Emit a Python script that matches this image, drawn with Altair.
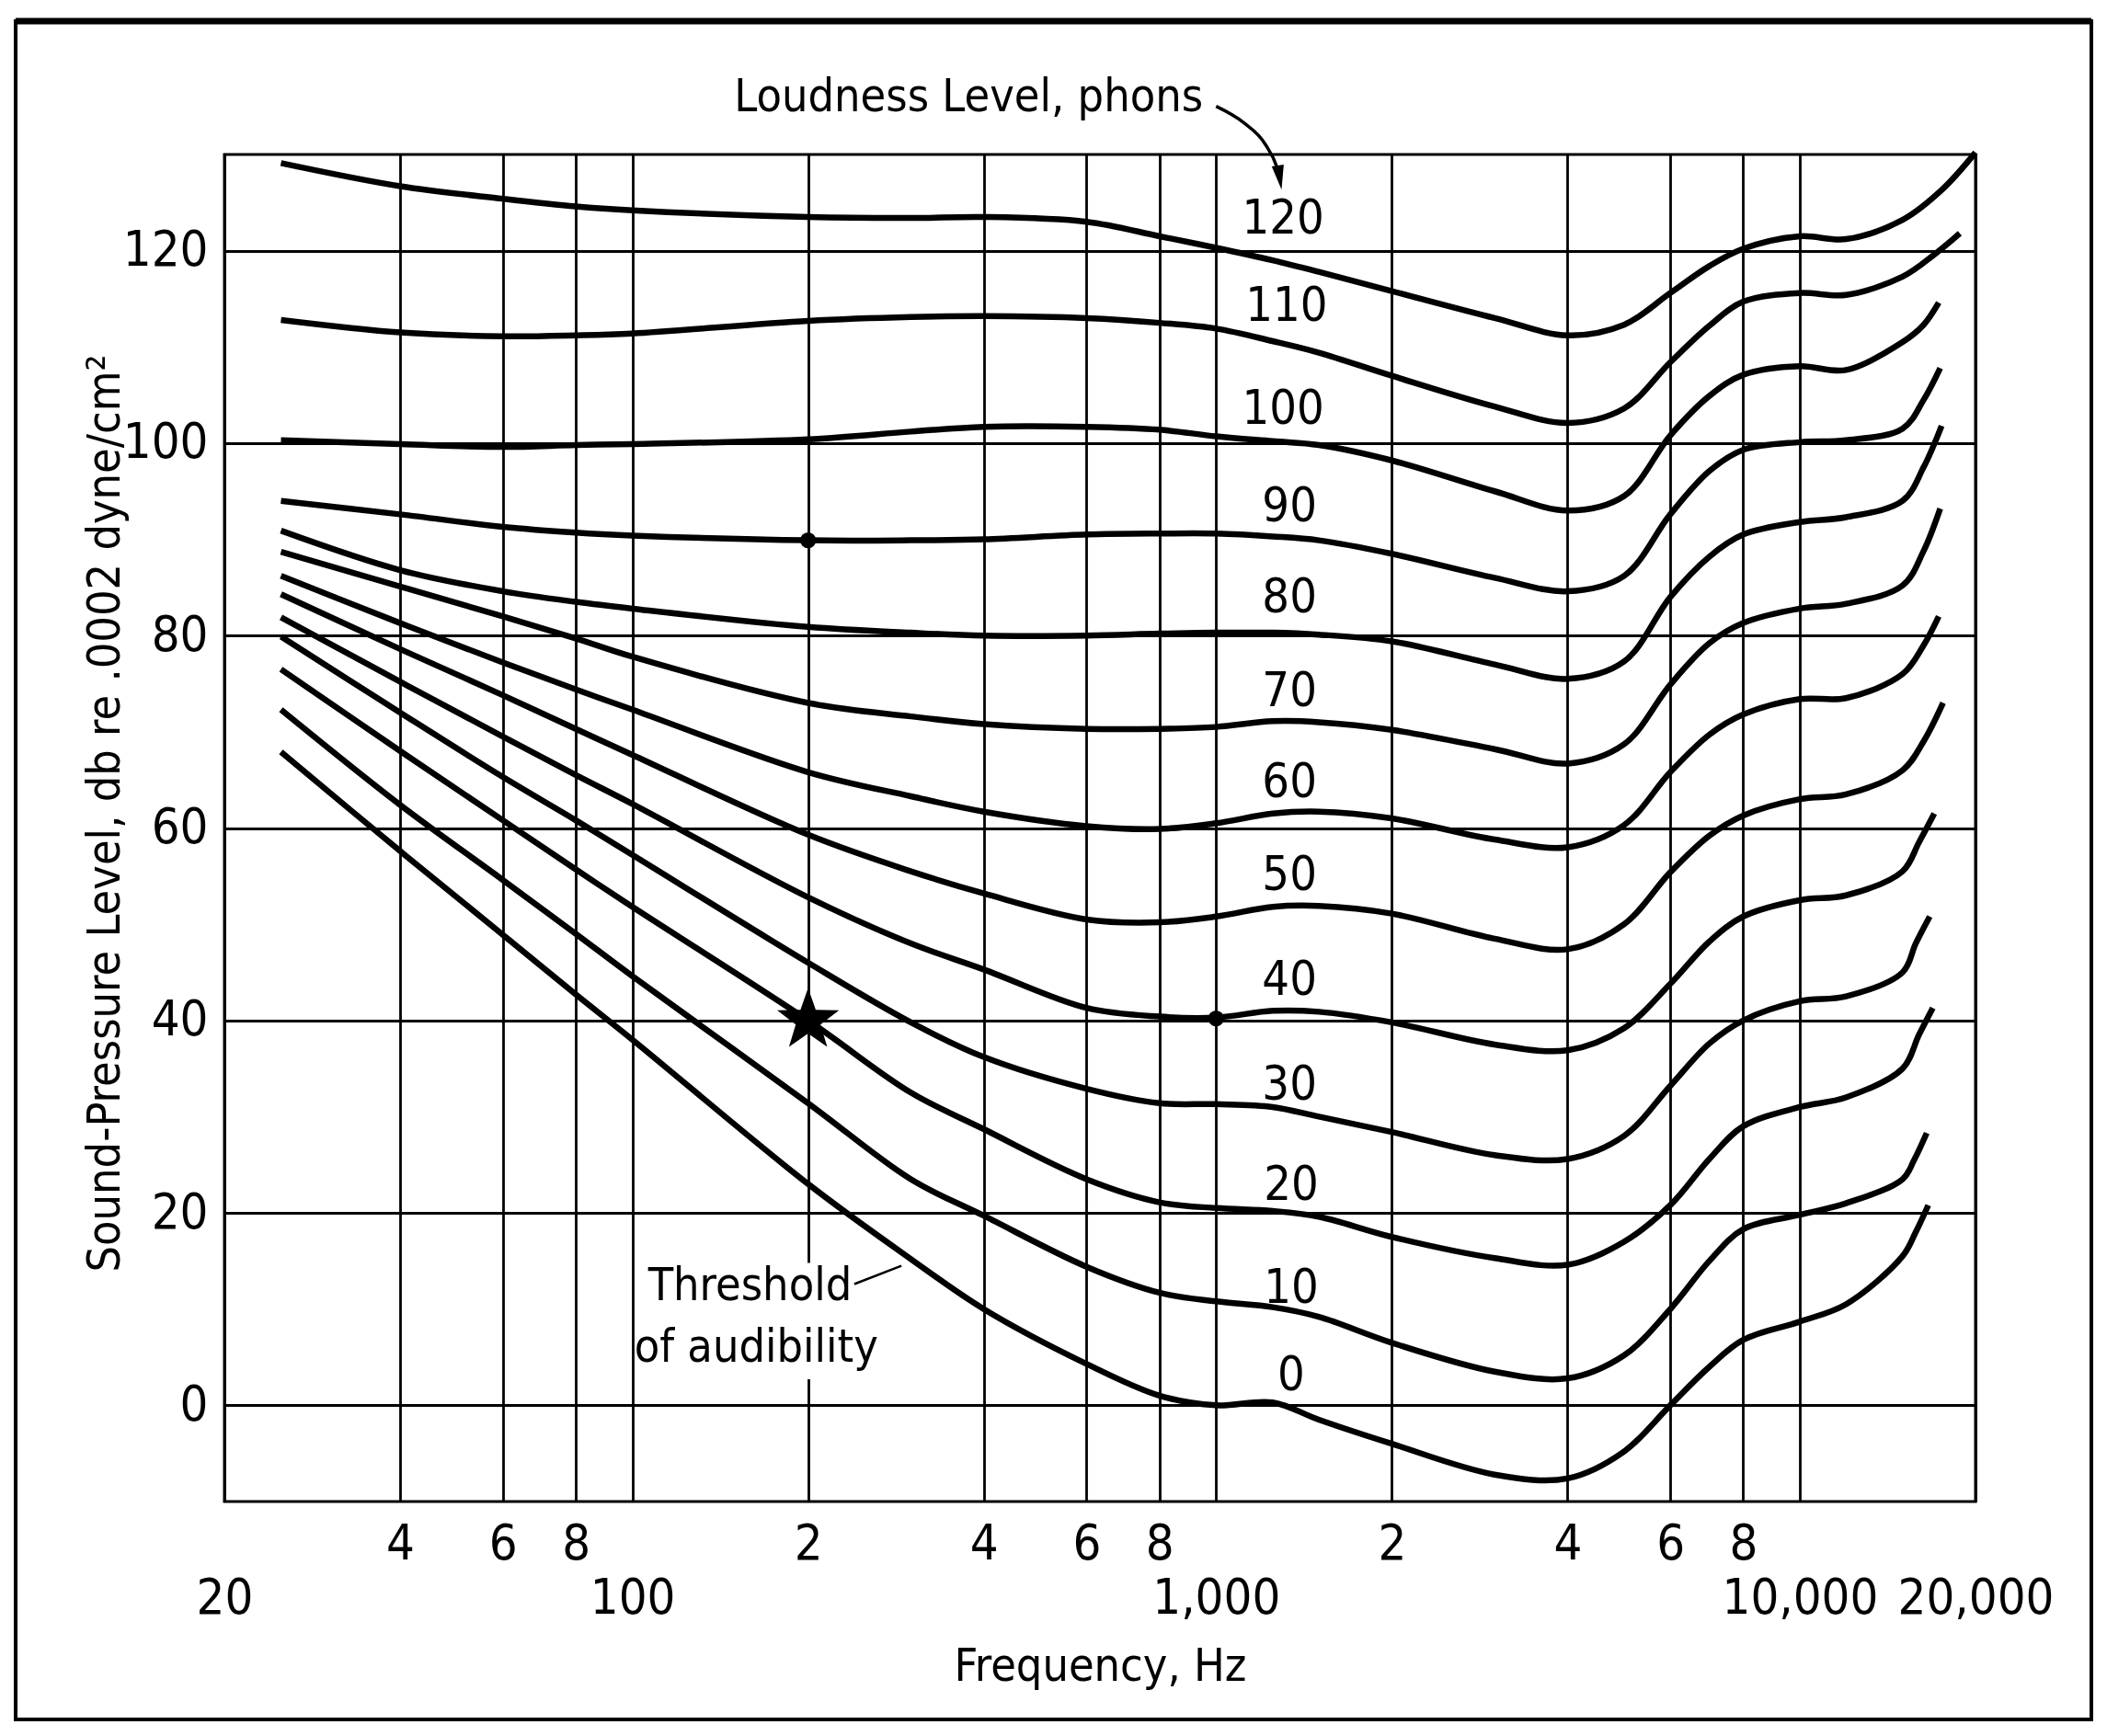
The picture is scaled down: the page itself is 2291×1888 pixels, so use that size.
import altair as alt
import pandas as pd

# ---------------- data ----------------
PHONS = [120, 110, 100, 90, 80, 70, 60, 50, 40, 30, 20, 10, 0]
FREQS = [25, 40, 60, 80, 100, 200, 300, 400, 600, 800, 1000, 1250, 1500,
         2000, 3000, 4000, 5000, 6000, 7000, 8000, 10000, 12000, 15000]

SPL_120 = [129.1, 126.7, 125.4, 124.6, 124.2, 123.5, 123.4, 123.5, 123.0, 121.5, 120.3, 119.0, 117.8, 115.8, 113.0, 111.2, 112.3, 115.6, 118.4, 120.2, 121.5, 121.2, 123.2]
SPL_110 = [112.8, 111.5, 111.1, 111.2, 111.4, 112.7, 113.1, 113.2, 113.0, 112.5, 111.9, 110.6, 109.4, 107.0, 103.8, 102.1, 103.6, 108.4, 112.2, 114.7, 115.6, 115.4, 117.3]
SPL_100 = [100.3, 99.9, 99.6, 99.8, 99.9, 100.4, 101.2, 101.7, 101.7, 101.4, 100.7, 100.2, 99.8, 98.2, 95.0, 93.0, 94.5, 100.8, 104.9, 107.1, 108.0, 107.6, 110.5]
SPL_90 = [94.0, 92.6, 91.3, 90.7, 90.4, 89.9, 89.9, 90.0, 90.5, 90.6, 90.6, 90.3, 89.9, 88.5, 86.0, 84.6, 86.2, 92.6, 97.1, 99.3, 100.1, 100.3, 101.5]
SPL_80 = [90.9, 86.8, 84.6, 83.5, 82.8, 80.9, 80.3, 80.0, 80.0, 80.2, 80.3, 80.3, 80.1, 79.4, 77.0, 75.5, 77.3, 84.0, 88.2, 90.5, 91.8, 92.3, 94.0]
SPL_70 = [88.7, 85.1, 82.0, 79.7, 77.8, 73.0, 71.6, 70.8, 70.3, 70.3, 70.5, 71.1, 71.0, 70.2, 68.2, 66.7, 68.7, 74.9, 79.2, 81.3, 82.8, 83.3, 85.2]
SPL_60 = [86.2, 81.3, 77.2, 74.4, 72.3, 65.8, 63.3, 61.7, 60.2, 59.9, 60.5, 61.5, 61.7, 61.0, 58.8, 58.0, 60.3, 65.8, 69.7, 71.8, 73.4, 73.5, 76.0]
SPL_50 = [84.3, 78.6, 73.8, 70.3, 67.6, 59.3, 55.5, 53.2, 50.5, 50.2, 50.8, 51.8, 51.9, 51.1, 48.5, 47.4, 50.0, 55.4, 59.2, 61.3, 63.0, 63.5, 66.0]
SPL_40 = [81.9, 75.2, 69.5, 65.5, 62.5, 52.8, 48.0, 45.3, 41.3, 40.4, 40.3, 41.0, 40.9, 39.8, 37.5, 36.9, 39.2, 43.8, 48.2, 50.8, 52.5, 53.0, 55.5]
SPL_30 = [79.9, 72.0, 65.3, 60.8, 57.2, 46.0, 39.8, 36.2, 32.9, 31.4, 31.3, 31.0, 30.0, 28.4, 26.0, 25.6, 28.0, 33.2, 37.6, 40.0, 42.0, 42.5, 45.0]
SPL_20 = [76.5, 68.0, 60.8, 55.7, 51.8, 40.0, 32.5, 28.7, 23.5, 21.1, 20.5, 20.2, 19.6, 17.5, 15.3, 14.6, 17.0, 20.8, 25.6, 29.0, 31.0, 32.0, 35.0]
SPL_10 = [72.3, 62.4, 54.6, 49.0, 44.6, 31.4, 23.5, 19.7, 14.4, 11.7, 10.8, 10.2, 9.2, 6.5, 3.5, 2.8, 5.2, 10.0, 15.0, 18.3, 19.8, 21.0, 23.5]
SPL_0 = [67.9, 57.6, 48.9, 42.7, 38.0, 23.0, 15.2, 10.0, 4.3, 1.0, 0.0, 0.3, -1.5, -4.0, -7.2, -7.6, -4.8, 0.0, 4.0, 6.8, 8.7, 10.5, 15.5]

# last two points of each curve (the upturn at the high-frequency end)
TAIL_FREQ = [17500, 17000, 16300, 16300, 16300, 16300, 16300, 16300, 16000, 15800, 16000, 15700, 15800]
TAIL_SPL = [126.3, 119.6, 112.3, 104.5, 97.5, 88.8, 79.0, 69.0, 58.5, 48.0, 38.5, 25.5, 18.0]
END_FREQ = [20000, 18800, 17300, 17400, 17500, 17400, 17300, 17600, 17000, 16700, 16900, 16500, 16600]
END_SPL = [130.2, 121.8, 114.6, 107.8, 101.8, 93.2, 82.0, 73.0, 61.5, 50.8, 41.3, 28.3, 20.8]

# curve labels
LABEL_TEXT = ["120", "110", "100", "90", "80", "70", "60", "50", "40", "30", "20", "10", "0"]
LABEL_FREQ = [1303, 1320, 1303, 1336, 1336, 1336, 1336, 1336, 1336, 1336, 1345, 1345, 1345]
LABEL_SPL = [123.3, 114.2, 103.5, 93.4, 83.9, 74.2, 64.7, 55.1, 44.2, 33.3, 22.9, 12.2, 3.1]

# x grid / tick labels
GRID_FREQS = [20, 40, 60, 80, 100, 200, 400, 600, 800, 1000, 2000, 4000, 6000, 8000, 10000, 20000]
TICK_LABELS = ["20", "4", "6", "8", "100", "2", "4", "6", "8", "1,000", "2", "4", "6", "8", "10,000", "20,000"]
TICK_ROW = [2, 1, 1, 1, 2, 1, 1, 1, 1, 2, 1, 1, 1, 1, 2, 2]
Y_TICKS = [0, 20, 40, 60, 80, 100, 120]

# annotations
STAR_FREQ = [200]
STAR_SPL = [40]
DOT_FREQ = [200, 1000]
DOT_SPL = [89.9, 40.2]
TITLE_TEXT = ["Loudness Level, phons"]
TITLE_FREQ = [950]
TITLE_SPL = [135.9]
ARROW_FREQ = [1000, 1115, 1213, 1273, 1282]
ARROW_SPL = [135.0, 133.3, 131.1, 128.6, 128.0]
HEAD_FREQ = [1285]
HEAD_SPL = [127.6]
THRESH_TEXT = ["Threshold", "of audibility"]
THRESH_FREQ = [159, 163]
THRESH_SPL = [12.4, 6.0]
LEADER_FREQ = [240, 289]
LEADER_SPL = [12.6, 14.5]
# gap in the 200 Hz grid line behind the "Threshold of audibility" note
GAP_FREQ = [188]
GAP_FREQ2 = [212]
GAP_SPL = [2.7]
GAP_SPL2 = [14.8]

# ---------------- build tables ----------------
SPL_ALL = [SPL_120, SPL_110, SPL_100, SPL_90, SPL_80, SPL_70, SPL_60,
           SPL_50, SPL_40, SPL_30, SPL_20, SPL_10, SPL_0]
rows = []
for phon, spl, tf, ts, ef, es in zip(PHONS, SPL_ALL, TAIL_FREQ, TAIL_SPL, END_FREQ, END_SPL):
    for f, s in zip(FREQS + [tf, ef], spl + [ts, es]):
        rows.append({"phon": phon, "freq": f, "spl": s})
curves_df = pd.DataFrame(rows)

labels_df = pd.DataFrame({"text": LABEL_TEXT, "freq": LABEL_FREQ, "spl": LABEL_SPL})
star_df = pd.DataFrame({"freq": STAR_FREQ, "spl": STAR_SPL})
dot_df = pd.DataFrame({"freq": DOT_FREQ, "spl": DOT_SPL})
title_df = pd.DataFrame({"text": TITLE_TEXT, "freq": TITLE_FREQ, "spl": TITLE_SPL})
arrow_df = pd.DataFrame({"freq": ARROW_FREQ, "spl": ARROW_SPL})
head_df = pd.DataFrame({"freq": HEAD_FREQ, "spl": HEAD_SPL})
thresh_df = pd.DataFrame({"text": THRESH_TEXT, "freq": THRESH_FREQ, "spl": THRESH_SPL})
leader_df = pd.DataFrame({"freq": LEADER_FREQ, "spl": LEADER_SPL})
gap_df = pd.DataFrame({"freq": GAP_FREQ, "freq2": GAP_FREQ2, "spl": GAP_SPL, "spl2": GAP_SPL2})

FONT = "Liberation Sans Narrow, DejaVu Sans Condensed, Arial Narrow, sans-serif"

parts = []
for v, lab, row in zip(GRID_FREQS, TICK_LABELS, TICK_ROW):
    arr = f"['', '{lab}']" if row == 2 else f"['{lab}']"
    parts.append(f"datum.value == {v} ? {arr}")
label_expr = " : ".join(parts) + " : ''"

x_scale = alt.Scale(type="log", domain=[20, 20000], nice=False)
y_scale = alt.Scale(domain=[-10, 130], nice=False, zero=False)

x_axis = alt.Axis(values=GRID_FREQS, labelExpr=label_expr, title="Frequency, Hz",
                  grid=True, labelFlush=False, labelOverlap=False,
                  labelPadding=19, labelLineHeight=59, labelBaseline="top",
                  labelFontSize=54, titlePadding=22)
y_axis = alt.Axis(values=Y_TICKS, title="Sound-Pressure Level, db re .0002 dyne/cm\u00b2",
                  grid=True, labelPadding=18, labelFlush=False, labelFontSize=54,
                  titleX=-130, titleY=716, titleBaseline="middle", titleAngle=270)


def X():
    return alt.X("freq:Q", scale=x_scale, axis=x_axis)


def Y():
    return alt.Y("spl:Q", scale=y_scale, axis=y_axis)


gap = alt.Chart(gap_df).mark_rect(color="white", opacity=1).encode(
    x=X(), x2="freq2:Q", y=Y(), y2="spl2:Q"
)

curves = alt.Chart(curves_df).mark_line(
    interpolate="catmull-rom", color="black", strokeWidth=6.5
).encode(x=X(), y=Y(), detail="phon:N")

labels = alt.Chart(labels_df).mark_text(
    font=FONT, fontSize=52, color="black", align="center", baseline="middle"
).encode(x=X(), y=Y(), text="text:N")

STAR = "M0,-1L0.235,-0.324L0.951,-0.309L0.38,0.124L0.588,0.809L0,0.4L-0.588,0.809L-0.38,0.124L-0.951,-0.309L-0.235,-0.324Z"
star = alt.Chart(star_df).mark_point(
    shape=STAR, filled=True, color="black", opacity=1, size=5000, strokeWidth=0
).encode(x=X(), y=Y())

dots = alt.Chart(dot_df).mark_circle(color="black", opacity=1, size=300).encode(x=X(), y=Y())

title_txt = alt.Chart(title_df).mark_text(
    font=FONT, fontSize=50, color="black", align="right", baseline="middle"
).encode(x=X(), y=Y(), text="text:N")

arrow = alt.Chart(arrow_df).mark_line(
    interpolate="monotone", color="black", strokeWidth=3.5
).encode(x=X(), y=Y())

HEAD = "M-0.5,-1L0.5,-1L0,1Z"
head = alt.Chart(head_df).mark_point(
    shape=HEAD, filled=True, color="black", opacity=1, size=700, strokeWidth=0, angle=351
).encode(x=X(), y=Y())

thresh = alt.Chart(thresh_df).mark_text(
    font=FONT, fontSize=50, color="black", align="center", baseline="middle"
).encode(x=X(), y=Y(), text="text:N")

leader = alt.Chart(leader_df).mark_line(color="black", strokeWidth=2.5).encode(x=X(), y=Y())

frame = alt.Chart(alt.Data(values=[{}])).mark_rect(
    filled=False, stroke="black", strokeWidth=4
).encode(x=alt.value(-227), x2=alt.value(2030), y=alt.value(-145), y2=alt.value(1702))

frame_top = alt.Chart(alt.Data(values=[{}])).mark_rule(
    color="black", strokeWidth=7
).encode(x=alt.value(-227), x2=alt.value(2030), y=alt.value(-145))

chart = alt.layer(
    gap, curves, labels, star, dots, title_txt, arrow, head, thresh, leader, frame, frame_top
).properties(
    width=1904, height=1465,
    padding={"left": 236, "top": 160, "right": 130, "bottom": 240},
    autosize=alt.AutoSizeParams(type="none"),
    background="white",
).configure_view(
    stroke="black", strokeWidth=3
).configure_axis(
    domain=False, ticks=False, gridColor="black", gridWidth=2.8, gridOpacity=1,
    labelFont=FONT, labelColor="black",
    titleFont=FONT, titleFontSize=50, titleColor="black", titleFontWeight="normal",
)

chart.save("out.html", embed_options={"renderer": "svg", "actions": False})
